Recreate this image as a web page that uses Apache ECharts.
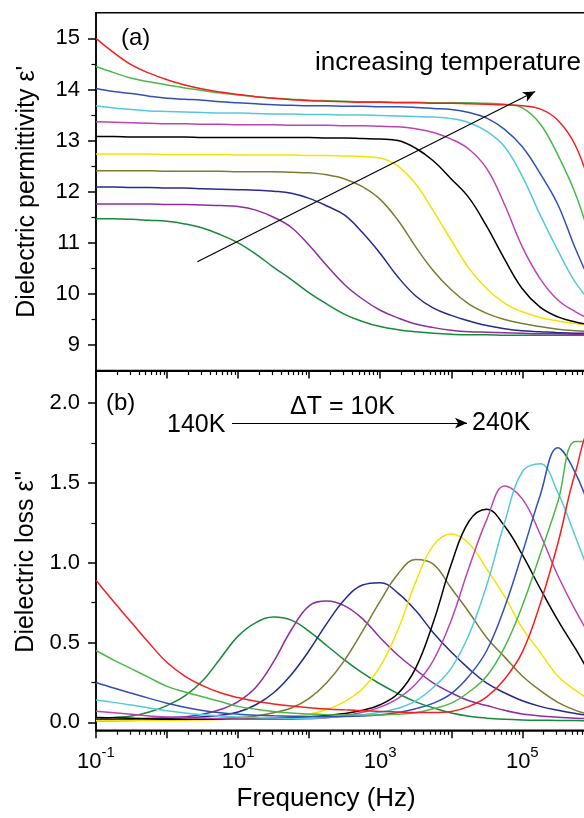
<!DOCTYPE html>
<html>
<head>
<meta charset="utf-8">
<script src="https://cdn.jsdelivr.net/npm/echarts@6/dist/echarts.min.js"></script>
<style>
html,body{margin:0;padding:0;background:#ffffff;}
#chart{width:584px;height:818px;}
</style>
</head>
<body>
<div id="chart"></div>
<script>
// log10 of frequency (Hz)
const logFreq = [-1, -0.75, -0.5, -0.25, 0, 0.25, 0.5, 0.75, 1, 1.25, 1.5, 1.75, 2, 2.25, 2.5, 2.75, 3, 3.25, 3.5, 3.75, 4, 4.25, 4.5, 4.75, 5, 5.25, 5.5, 5.75, 6, 6.25, 6.5];

const tempLabels = ['140K', '150K', '160K', '170K', '180K', '190K', '200K', '210K', '220K', '230K', '240K'];
const lineColors = ['#17893a', '#8c2e9c', '#262a8c', '#7b7b32', '#f3e300', '#000000', '#bb44b4', '#55c8dc', '#3050b4', '#4cb848', '#f42020'];

// (a) dielectric permittivity eps'
const perm140 = [11.47, 11.47, 11.46, 11.44, 11.42, 11.37, 11.29, 11.16, 11.0, 10.78, 10.52, 10.28, 10.02, 9.8, 9.6, 9.46, 9.36, 9.3, 9.26, 9.23, 9.21, 9.2, 9.2, 9.19, 9.19, 9.19, 9.19, 9.19, 9.19, 9.19, 9.19];
const perm150 = [11.76, 11.76, 11.76, 11.76, 11.75, 11.75, 11.74, 11.73, 11.71, 11.64, 11.5, 11.3, 10.95, 10.55, 10.18, 9.9, 9.68, 9.53, 9.41, 9.34, 9.29, 9.26, 9.25, 9.24, 9.23, 9.22, 9.22, 9.21, 9.21, 9.21, 9.21];
const perm160 = [12.09, 12.09, 12.08, 12.08, 12.07, 12.07, 12.06, 12.05, 12.04, 12.03, 12.01, 11.97, 11.87, 11.72, 11.54, 11.2, 10.79, 10.33, 9.96, 9.72, 9.58, 9.47, 9.38, 9.32, 9.28, 9.26, 9.24, 9.23, 9.23, 9.22, 9.22];
const perm170 = [12.41, 12.41, 12.41, 12.41, 12.4, 12.4, 12.4, 12.4, 12.39, 12.39, 12.39, 12.38, 12.37, 12.33, 12.25, 12.1, 11.85, 11.44, 10.92, 10.45, 10.08, 9.8, 9.62, 9.5, 9.42, 9.36, 9.31, 9.28, 9.26, 9.25, 9.24];
const perm180 = [12.74, 12.74, 12.74, 12.74, 12.73, 12.73, 12.73, 12.73, 12.72, 12.72, 12.72, 12.72, 12.71, 12.71, 12.7, 12.69, 12.66, 12.5, 12.15, 11.62, 11.05, 10.5, 10.1, 9.82, 9.65, 9.54, 9.47, 9.42, 9.38, 9.34, 9.31];
const perm190 = [13.08, 13.08, 13.07, 13.07, 13.07, 13.07, 13.06, 13.06, 13.06, 13.06, 13.06, 13.06, 13.06, 13.05, 13.05, 13.04, 13.03, 13.0, 12.85, 12.6, 12.25, 11.88, 11.32, 10.68, 10.1, 9.74, 9.55, 9.45, 9.38, 9.33, 9.3];
const perm200 = [13.37, 13.36, 13.35, 13.34, 13.33, 13.33, 13.32, 13.32, 13.31, 13.31, 13.31, 13.3, 13.3, 13.3, 13.29, 13.29, 13.28, 13.27, 13.23, 13.16, 13.03, 12.83, 12.45, 11.75, 10.92, 10.3, 9.88, 9.65, 9.48, 9.38, 9.32];
const perm210 = [13.68, 13.64, 13.61, 13.58, 13.57, 13.56, 13.55, 13.54, 13.54, 13.53, 13.52, 13.52, 13.51, 13.51, 13.5, 13.5, 13.49, 13.48, 13.47, 13.46, 13.43, 13.35, 13.18, 12.88, 12.3, 11.55, 10.85, 10.22, 9.8, 9.55, 9.42];
const perm220 = [14.02, 13.96, 13.92, 13.87, 13.83, 13.81, 13.79, 13.76, 13.74, 13.72, 13.7, 13.69, 13.68, 13.68, 13.67, 13.67, 13.66, 13.66, 13.65, 13.63, 13.61, 13.55, 13.44, 13.22, 12.88, 12.36, 11.75, 10.88, 10.15, 9.72, 9.5];
const perm230 = [14.45, 14.33, 14.22, 14.15, 14.09, 14.03, 13.98, 13.93, 13.89, 13.86, 13.83, 13.81, 13.79, 13.78, 13.77, 13.76, 13.76, 13.75, 13.75, 13.74, 13.74, 13.74, 13.73, 13.71, 13.64, 13.33, 12.72, 11.95, 10.95, 10.2, 9.75];
const perm240 = [15.0, 14.72, 14.48, 14.32, 14.19, 14.09, 14.01, 13.95, 13.9, 13.86, 13.83, 13.8, 13.78, 13.77, 13.76, 13.75, 13.75, 13.74, 13.74, 13.73, 13.73, 13.72, 13.71, 13.7, 13.68, 13.62, 13.4, 12.9, 11.95, 11.0, 10.25];

// (b) dielectric loss eps''
const loss140 = [0.02, 0.03, 0.04, 0.065, 0.105, 0.165, 0.26, 0.40, 0.54, 0.625, 0.66, 0.64, 0.57, 0.48, 0.39, 0.31, 0.24, 0.18, 0.128, 0.09, 0.058, 0.038, 0.026, 0.019, 0.015, 0.013, 0.012, 0.011, 0.01, 0.01, 0.01];
const loss150 = [0.02, 0.02, 0.02, 0.025, 0.03, 0.035, 0.05, 0.08, 0.13, 0.22, 0.38, 0.58, 0.73, 0.76, 0.73, 0.65, 0.53, 0.42, 0.33, 0.245, 0.185, 0.135, 0.105, 0.075, 0.052, 0.04, 0.032, 0.026, 0.022, 0.019, 0.017];
const loss160 = [0.015, 0.015, 0.016, 0.018, 0.022, 0.028, 0.035, 0.045, 0.065, 0.11, 0.185, 0.30, 0.45, 0.62, 0.77, 0.86, 0.875, 0.81, 0.70, 0.56, 0.44, 0.335, 0.245, 0.185, 0.135, 0.10, 0.075, 0.055, 0.04, 0.03, 0.024];
const loss170 = [0.01, 0.01, 0.012, 0.013, 0.015, 0.018, 0.02, 0.025, 0.03, 0.04, 0.06, 0.09, 0.15, 0.25, 0.39, 0.57, 0.76, 0.93, 1.02, 0.99, 0.84, 0.69, 0.53, 0.41, 0.29, 0.20, 0.125, 0.075, 0.045, 0.03, 0.02];
const loss180 = [0.01, 0.01, 0.01, 0.012, 0.012, 0.013, 0.015, 0.017, 0.02, 0.022, 0.025, 0.035, 0.05, 0.08, 0.13, 0.21, 0.35, 0.58, 0.88, 1.11, 1.18, 1.12, 0.96, 0.79, 0.59, 0.44, 0.29, 0.2, 0.13, 0.085, 0.055];
const loss190 = [0.03, 0.028, 0.025, 0.022, 0.02, 0.02, 0.02, 0.02, 0.02, 0.022, 0.025, 0.03, 0.035, 0.043, 0.055, 0.075, 0.11, 0.18, 0.34, 0.63, 0.99, 1.26, 1.335, 1.23, 1.05, 0.84, 0.64, 0.46, 0.28, 0.18, 0.12];
const loss200 = [0.07, 0.06, 0.05, 0.04, 0.033, 0.028, 0.025, 0.022, 0.02, 0.02, 0.02, 0.02, 0.022, 0.028, 0.042, 0.063, 0.095, 0.15, 0.24, 0.39, 0.64, 0.97, 1.27, 1.48, 1.40, 1.18, 0.92, 0.70, 0.51, 0.36, 0.25];
const loss210 = [0.14, 0.125, 0.108, 0.09, 0.072, 0.058, 0.047, 0.039, 0.033, 0.029, 0.027, 0.026, 0.026, 0.03, 0.038, 0.048, 0.063, 0.088, 0.135, 0.22, 0.34, 0.55, 0.86, 1.25, 1.57, 1.62, 1.44, 1.16, 0.88, 0.66, 0.48];
const loss220 = [0.25, 0.215, 0.182, 0.15, 0.12, 0.094, 0.074, 0.06, 0.051, 0.045, 0.041, 0.038, 0.036, 0.035, 0.036, 0.04, 0.048, 0.062, 0.085, 0.12, 0.18, 0.29, 0.45, 0.72, 1.06, 1.42, 1.72, 1.56, 1.28, 0.98, 0.72];
const loss230 = [0.45, 0.39, 0.335, 0.28, 0.225, 0.19, 0.16, 0.13, 0.1, 0.082, 0.068, 0.058, 0.052, 0.048, 0.046, 0.045, 0.046, 0.05, 0.06, 0.085, 0.12, 0.19, 0.29, 0.47, 0.73, 1.05, 1.38, 1.76, 1.76, 1.46, 1.13];
const loss240 = [0.89, 0.755, 0.625, 0.495, 0.375, 0.29, 0.23, 0.185, 0.155, 0.132, 0.115, 0.102, 0.092, 0.084, 0.078, 0.073, 0.068, 0.064, 0.062, 0.062, 0.068, 0.1, 0.16, 0.27, 0.44, 0.74, 1.12, 1.57, 1.84, 1.8, 1.6];

// ticks
const permTicks = [9, 10, 11, 12, 13, 14, 15];
const permMinorTicks = [9.5, 10.5, 11.5, 12.5, 13.5, 14.5];
const lossTicks = [0, 0.5, 1, 1.5, 2];
const lossMinorTicks = [0.25, 0.75, 1.25, 1.75];
const freqMajorTicks = [-1, 0, 1, 2, 3, 4, 5, 6, 7];
const freqLabelTicks = [-1, 1, 3, 5, 7];
const minorMultipliers = [2, 3, 4, 5, 6, 7, 8, 9];

// annotations (data coordinates)
const arrowA = [[0.426, 10.63], [5.18, 13.96]];
const arrowB = [[0.914, 1.875], [4.222, 1.875]];

const freqMinorTicks = [];
for (let d = -1; d < 7; d++) {
  minorMultipliers.forEach(m => freqMinorTicks.push(d + Math.log10(m)));
}

const FONT = '"Liberation Sans", Arial, Helvetica, sans-serif';
const permValues = [perm140, perm150, perm160, perm170, perm180, perm190, perm200, perm210, perm220, perm230, perm240];
const lossValues = [loss140, loss150, loss160, loss170, loss180, loss190, loss200, loss210, loss220, loss230, loss240];

const gridW = 568.4;

function mainX(gridIndex, withLabels) {
  return {
    type: 'value', gridIndex, min: -1, max: 7, position: 'bottom',
    axisLine: { show: true, onZero: false, lineStyle: { color: '#000', width: 1.5 } },
    axisTick: { show: true, inside: false, length: 8, customValues: freqMajorTicks, lineStyle: { color: '#000', width: 1.5 } },
    axisLabel: withLabels ? {
      show: true, customValues: freqLabelTicks, margin: 15, color: '#000',
      formatter: v => '{b|10}{s|' + v + '}',
      rich: {
        b: { fontSize: 22, fontFamily: FONT, color: '#000', lineHeight: 28, verticalAlign: 'bottom' },
        s: { fontSize: 15, fontFamily: FONT, color: '#000', lineHeight: 14, verticalAlign: 'top' }
      }
    } : { show: false },
    splitLine: { show: false },
    name: withLabels ? 'Frequency (Hz)' : '',
    nameLocation: 'middle', nameGap: 56,
    nameTextStyle: { fontSize: 26, fontFamily: FONT, color: '#000', padding: [0, 108, 0, 0] }
  };
}
function minorX(gridIndex) {
  return {
    type: 'value', gridIndex, min: -1, max: 7, position: 'bottom',
    axisLine: { show: false, onZero: false },
    axisTick: { show: true, inside: false, length: 4.5, customValues: freqMinorTicks, lineStyle: { color: '#000', width: 1.2 } },
    axisLabel: { show: false }, splitLine: { show: false }
  };
}
function mainY(gridIndex, min, max, ticks, fmt, name, nameOpts) {
  return {
    type: 'value', gridIndex, min, max, position: 'left',
    axisLine: { show: true, onZero: false, lineStyle: { color: '#000', width: 1.5 } },
    axisTick: { show: true, inside: false, length: 8, customValues: ticks, lineStyle: { color: '#000', width: 1.5 } },
    axisLabel: { show: true, customValues: ticks, margin: 16, color: '#000', fontSize: 22, fontFamily: FONT, formatter: fmt },
    splitLine: { show: false },
    name, nameLocation: 'middle', nameGap: nameOpts.gap,
    nameTextStyle: Object.assign({ fontSize: 25, fontFamily: FONT, color: '#000' }, nameOpts.style || {})
  };
}
function minorY(gridIndex, min, max, ticks) {
  return {
    type: 'value', gridIndex, min, max, position: 'left',
    axisLine: { show: false, onZero: false },
    axisTick: { show: true, inside: false, length: 4.5, customValues: ticks, lineStyle: { color: '#000', width: 1.2 } },
    axisLabel: { show: false }, splitLine: { show: false }
  };
}

const series = [];
function arrowMark(pts) {
  return {
    silent: true, symbol: ['none', 'arrow'], symbolSize: [8, 12],
    label: { show: false }, emphasis: { disabled: true },
    lineStyle: { color: '#000', width: 1.2, type: 'solid' },
    itemStyle: { color: '#000' },
    data: [[{ coord: pts[0] }, { coord: pts[1] }]]
  };
}
permValues.forEach((vals, i) => {
  const s = {
    type: 'line', name: tempLabels[i], xAxisIndex: 0, yAxisIndex: 0,
    data: logFreq.map((x, j) => [x, vals[j]]),
    showSymbol: false, smooth: 0.4, silent: true,
    lineStyle: { color: lineColors[i], width: 1.5 }, itemStyle: { color: lineColors[i] }
  };
  if (i === permValues.length - 1) s.markLine = arrowMark(arrowA);
  series.push(s);
});
lossValues.forEach((vals, i) => {
  const s = {
    type: 'line', name: tempLabels[i], xAxisIndex: 2, yAxisIndex: 2,
    data: logFreq.map((x, j) => [x, vals[j]]),
    showSymbol: false, smooth: 0.4, silent: true,
    lineStyle: { color: lineColors[i], width: 1.5 }, itemStyle: { color: lineColors[i] }
  };
  if (i === lossValues.length - 1) s.markLine = arrowMark(arrowB);
  series.push(s);
});

function txt(text, x, y, size) {
  return { type: 'text', x, y, silent: true, style: { text, fontSize: size, fontFamily: FONT, fill: '#000', align: 'left', verticalAlign: 'middle' } };
}

const option = {
  animation: false,
  backgroundColor: '#ffffff',
  grid: [
    { left: 96, top: 12.85, width: gridW, height: 357.7, show: true, borderColor: '#000', borderWidth: 1.5, backgroundColor: 'transparent', containLabel: false, outerBoundsMode: 'none' },
    { left: 96, top: 371.2, width: gridW, height: 359.1, show: true, borderColor: '#000', borderWidth: 1.5, backgroundColor: 'transparent', containLabel: false, outerBoundsMode: 'none' }
  ],
  xAxis: [mainX(0, false), minorX(0), mainX(1, true), minorX(1)],
  yAxis: [
    mainY(0, 8.5, 15.5, permTicks, v => String(v), "Dielectric permittivity \u03b5'", { gap: 56 }),
    minorY(0, 8.5, 15.5, permMinorTicks),
    mainY(1, -0.05, 2.2, lossTicks, v => v.toFixed(1), "Dielectric loss \u03b5''", { gap: 56, style: { padding: [0, 22, 0, 0] } }),
    minorY(1, -0.05, 2.2, lossMinorTicks)
  ],
  series,
  graphic: [
    txt('(a)', 121, 38, 24),
    txt('increasing temperature', 315, 63, 26),
    txt('(b)', 106, 403, 24),
    txt('140K', 167, 425, 25),
    txt('\u0394T = 10K', 290, 407, 25),
    txt('240K', 472, 423, 25)
  ]
};

const chart = echarts.init(document.getElementById('chart'), null, { renderer: 'canvas' });
chart.setOption(option);
</script>
</body>
</html>
